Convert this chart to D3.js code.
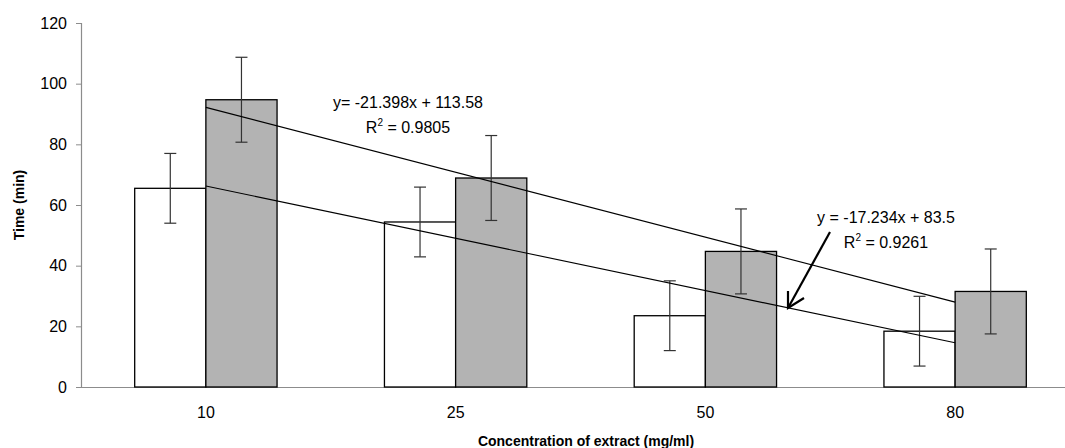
<!DOCTYPE html>
<html>
<head>
<meta charset="utf-8">
<script src="https://cdn.jsdelivr.net/npm/d3@7"></script>
<style>
  body { margin: 0; background: #fff; }
  text { font-family: "Liberation Sans", Arial, sans-serif; }
</style>
</head>
<body>
<div id="chart"></div>
<script>
// chart values
var categories = ["10", "25", "50", "80"];
var whiteValues = [65.5, 54.4, 23.5, 18.4];
var greyValues = [94.7, 68.9, 44.7, 31.5];
var whiteErr = [11.5, 11.5, 11.5, 11.5];
var greyErr = [14, 14, 14, 14];
var yTicks = [0, 20, 40, 60, 80, 100, 120];

// linear trend lines (x = category index 1..4)
var trendSlopes = [-21.398, -17.234];
var trendIntercepts = [113.58, 83.5];
var trendEquations = ["y= -21.398x + 113.58", "y = -17.234x + 83.5"];
var trendR2 = ["0.9805", "0.9261"];

var width = 1065, height = 448;
var margin = {top: 23, left: 81, bottom: 61};
var plotRight = 1080;

var svg = d3.select("#chart")
    .append("svg")
        .attr("width", width)
        .attr("height", height);

var x = d3.scaleBand()
    .domain(categories)
    .range([margin.left, plotRight]);

var y = d3.scaleLinear()
    .domain([0, 120])
    .range([height - margin.bottom, margin.top]);

var barW = x.bandwidth() * 0.285;
function center(c) { return x(c) + x.bandwidth() / 2; }

// Y axis
var yAxis = svg.append("g")
    .attr("transform", "translate(" + margin.left + ",0)")
    .call(d3.axisLeft(y).tickValues(yTicks).tickSize(5).tickPadding(9));
yAxis.select(".domain").attr("stroke", "#8c8c8c").attr("stroke-width", 1.2);
yAxis.selectAll(".tick line").attr("stroke", "#8c8c8c");
yAxis.selectAll("text")
    .style("font-size", "16px")
    .style("font-family", "'Liberation Sans', Arial, sans-serif")
    .attr("fill", "#000");

// X axis
var xAxis = svg.append("g")
    .attr("transform", "translate(0," + y(0) + ")")
    .call(d3.axisBottom(x).tickSize(0).tickPadding(20));
xAxis.select(".domain").attr("stroke", "#8c8c8c").attr("stroke-width", 1.2);
xAxis.selectAll("text")
    .style("font-size", "16px")
    .style("font-family", "'Liberation Sans', Arial, sans-serif")
    .attr("fill", "#000");

// bars
svg.append("g").selectAll("rect")
    .data(categories)
    .enter()
    .append("rect")
        .attr("x", function(d) { return center(d) - barW; })
        .attr("y", function(d, i) { return y(whiteValues[i]); })
        .attr("width", barW)
        .attr("height", function(d, i) { return y(0) - y(whiteValues[i]); })
        .attr("fill", "#fff")
        .attr("stroke", "#000")
        .attr("stroke-width", 1.3);

svg.append("g").selectAll("rect")
    .data(categories)
    .enter()
    .append("rect")
        .attr("x", function(d) { return center(d); })
        .attr("y", function(d, i) { return y(greyValues[i]); })
        .attr("width", barW)
        .attr("height", function(d, i) { return y(0) - y(greyValues[i]); })
        .attr("fill", "#b3b3b3")
        .attr("stroke", "#000")
        .attr("stroke-width", 1.3);

// error bars
function errorBars(values, errs, offset) {
    var g = svg.append("g").attr("stroke", "#333").attr("stroke-width", 1.2);
    categories.forEach(function(c, i) {
        var cx = center(c) + offset;
        var top = y(values[i] + errs[i]), bot = y(values[i] - errs[i]);
        g.append("line").attr("x1", cx).attr("x2", cx).attr("y1", top).attr("y2", bot);
        g.append("line").attr("x1", cx - 6).attr("x2", cx + 6).attr("y1", top).attr("y2", top);
        g.append("line").attr("x1", cx - 6).attr("x2", cx + 6).attr("y1", bot).attr("y2", bot);
    });
}
errorBars(whiteValues, whiteErr, -barW / 2);
errorBars(greyValues, greyErr, barW / 2);

// trend lines
var line = d3.line()
    .x(function(d) { return center(categories[d[0] - 1]); })
    .y(function(d) { return y(d[1]); });

trendSlopes.forEach(function(s, k) {
    var pts = [1, 4].map(function(i) { return [i, s * i + trendIntercepts[k]]; });
    svg.append("path")
        .attr("d", line(pts))
        .attr("fill", "none")
        .attr("stroke", "#000")
        .attr("stroke-width", 1.1);
});

// trend labels
var labelPos = [[408, 108], [886, 223]];
labelPos.forEach(function(p, k) {
    svg.append("text")
        .attr("x", p[0]).attr("y", p[1])
        .attr("text-anchor", "middle")
        .style("font-size", "16px")
        .text(trendEquations[k]);
    var r = svg.append("text")
        .attr("x", p[0]).attr("y", p[1] + 25)
        .attr("text-anchor", "middle")
        .style("font-size", "16px");
    r.append("tspan").text("R");
    r.append("tspan").attr("dy", -7).style("font-size", "10px").text("2");
    r.append("tspan").attr("dy", 7).text(" = " + trendR2[k]);
});

// arrow pointing to the lower trend line
var arrow = svg.append("g")
    .attr("stroke", "#000")
    .attr("stroke-width", 2.2)
    .attr("fill", "none");
arrow.append("line").attr("x1", 830).attr("y1", 232).attr("x2", 788).attr("y2", 308);
arrow.append("path").attr("d", "M788,291 L788,308 L804,298");

// axis titles
svg.append("text")
    .attr("transform", "rotate(-90)")
    .attr("x", -(y(0) + y(120)) / 2)
    .attr("y", 24)
    .attr("text-anchor", "middle")
    .style("font-size", "14px")
    .style("font-weight", "bold")
    .text("Time (min)");

svg.append("text")
    .attr("x", 586)
    .attr("y", 446)
    .attr("text-anchor", "middle")
    .style("font-size", "14px")
    .style("font-weight", "bold")
    .text("Concentration of extract (mg/ml)");
</script>
</body>
</html>
